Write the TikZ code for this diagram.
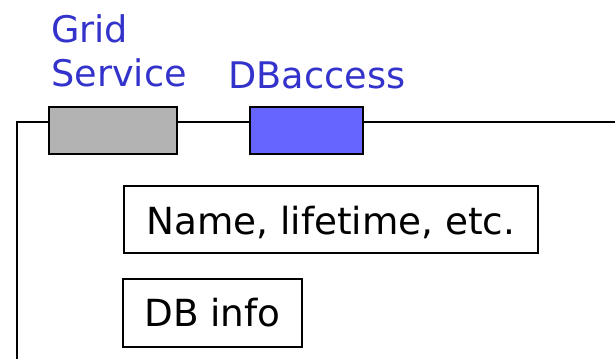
\documentclass[tikz,border=0pt]{standalone}
\usepackage{fontspec}
\setmainfont{DejaVu Sans}
\definecolor{gsgray}{HTML}{B3B3B3}
\definecolor{dbblue}{HTML}{6666FF}
\definecolor{lblblue}{HTML}{3333CC}
\tikzset{
  port/.style={draw=black, line width=2.2pt, minimum height=35.25pt, inner sep=0pt},
  infobox/.style={draw=black, line width=1.6pt, inner sep=0pt, font=\fontsize{28}{33}\selectfont},
  lbl/.style={text=lblblue, inner sep=0pt, font=\fontsize{27.5}{33}\selectfont},
  wire/.style={line width=1.6pt}
}
\begin{document}
\begin{tikzpicture}[x=0.75pt,y=-0.75pt]
\useasboundingbox (0,0) rectangle (615,359);
\node[port, fill=gsgray, minimum width=96pt] (gs) at (113,130.5) {};
\node[port, fill=dbblue, minimum width=84.75pt] (db) at (306.5,130.5) {};
\coordinate (corner) at (17,122);
\coordinate (bot) at (17,362);
\coordinate (rend) at (618,122);
\draw[wire] (bot) -- (corner) -- (corner -| gs.west);
\draw[wire] (corner -| gs.east) -- (corner -| db.west);
\draw[wire] (corner -| db.east) -- (rend);
\node[lbl, align=left, anchor=north west] (gslbl) at (51,14) {Grid\\Service};
\node[lbl, anchor=base west] (dblbl) at (228,89) {DBaccess};
\node[infobox, minimum width=310.5pt, minimum height=50.25pt, text height=23.25pt, text depth=0pt] (name) at (331,219.5) {Name, lifetime, etc.};
\node[infobox, minimum width=134.25pt, minimum height=51pt, text height=21pt, text depth=0pt] (dbinfo) at (212.5,313) {DB info};
\end{tikzpicture}
\end{document}
